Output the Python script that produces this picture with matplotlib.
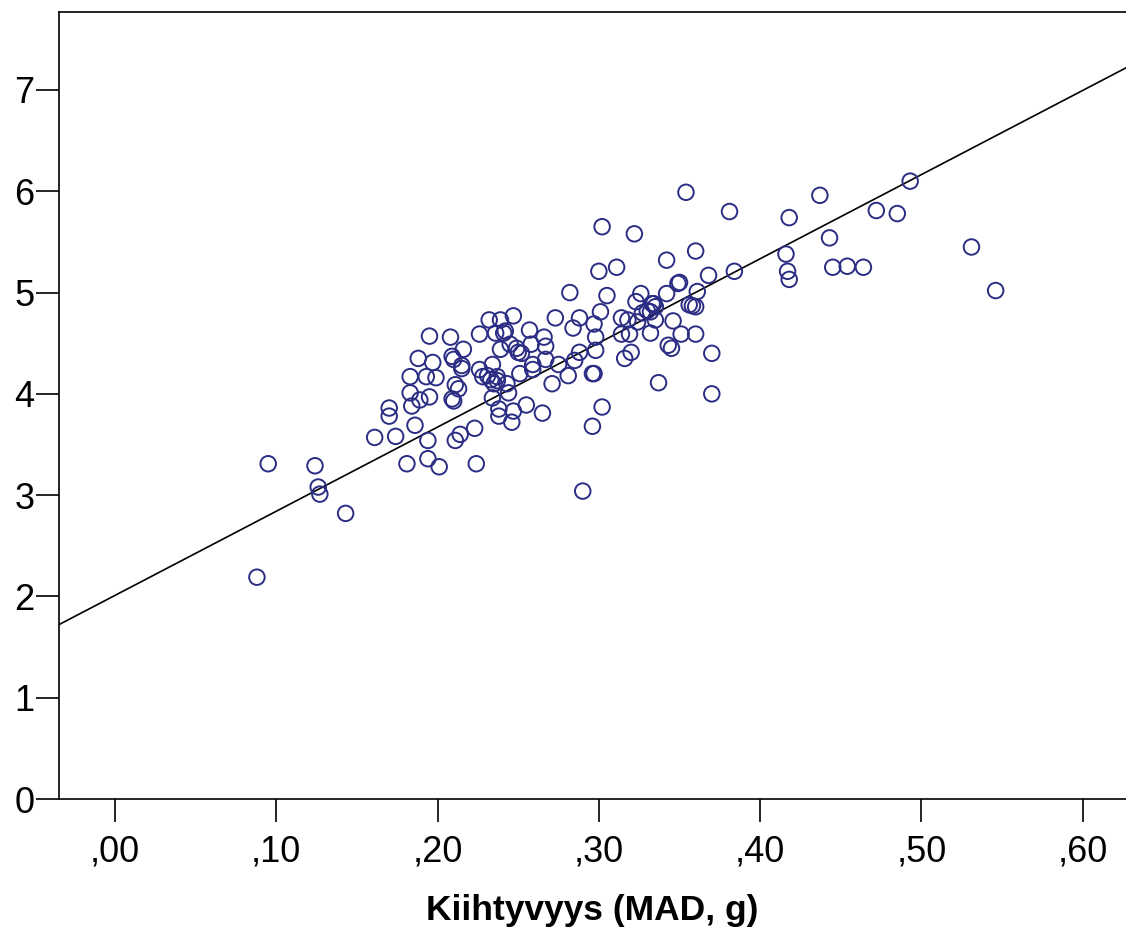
import numpy as np
import matplotlib
matplotlib.use('Agg')
import matplotlib.pyplot as plt

plt.rcParams['font.family'] = ['Liberation Sans', 'DejaVu Sans']

# acceleration (MAD, g) vs outcome
x = [0.088, 0.095, 0.124, 0.126, 0.127, 0.143, 0.161, 0.170, 0.170, 0.174,
     0.181, 0.183, 0.183, 0.184, 0.186, 0.188, 0.189, 0.193, 0.194, 0.194,
     0.195, 0.195, 0.197, 0.199, 0.201, 0.208, 0.209, 0.209, 0.210, 0.210,
     0.211, 0.211, 0.213, 0.214, 0.215, 0.215, 0.216, 0.223, 0.224, 0.226,
     0.226, 0.228, 0.231, 0.232, 0.233, 0.234, 0.234, 0.235, 0.236, 0.237,
     0.237, 0.238, 0.238, 0.239, 0.239, 0.241, 0.243, 0.244, 0.245, 0.246,
     0.247, 0.247, 0.249, 0.250, 0.251, 0.252, 0.255, 0.257, 0.258, 0.259,
     0.259, 0.265, 0.266, 0.267, 0.267, 0.271, 0.273, 0.275, 0.281, 0.282,
     0.284, 0.285, 0.288, 0.288, 0.290, 0.296, 0.296, 0.297, 0.297, 0.298,
     0.298, 0.300, 0.301, 0.302, 0.302, 0.305, 0.311, 0.314, 0.316, 0.318,
     0.320, 0.319, 0.322, 0.323, 0.324, 0.326, 0.327, 0.330, 0.332, 0.332,
     0.334, 0.335, 0.335, 0.337, 0.342, 0.342, 0.343, 0.345, 0.346, 0.349,
     0.350, 0.351, 0.354, 0.356, 0.358, 0.360, 0.360, 0.360, 0.361, 0.368,
     0.370, 0.370, 0.381, 0.384, 0.416, 0.417, 0.418, 0.418, 0.437, 0.443,
     0.445, 0.454, 0.464, 0.472, 0.485, 0.493, 0.531, 0.546, 0.242, 0.314,
     0.333]
y = [2.19, 3.31, 3.29, 3.08, 3.01, 2.82, 3.57, 3.86, 3.78, 3.58,
     3.31, 4.17, 4.01, 3.88, 3.69, 4.35, 3.94, 4.17, 3.54, 3.36,
     4.57, 3.97, 4.31, 4.16, 3.28, 4.56, 4.37, 3.95, 4.34, 3.93,
     4.09, 3.54, 4.05, 3.60, 4.25, 4.28, 4.44, 3.66, 3.31, 4.59,
     4.24, 4.17, 4.18, 4.73, 4.14, 4.29, 3.96, 4.10, 4.60, 4.17,
     4.13, 3.85, 3.78, 4.73, 4.44, 4.60, 4.10, 4.01, 4.49, 3.72,
     3.83, 4.77, 4.45, 4.41, 4.20, 4.40, 3.89, 4.63, 4.49, 4.29,
     4.24, 3.81, 4.56, 4.47, 4.34, 4.10, 4.75, 4.29, 4.18, 5.00,
     4.65, 4.33, 4.75, 4.41, 3.04, 3.68, 4.20, 4.20, 4.69, 4.56,
     4.43, 5.21, 4.81, 3.87, 5.65, 4.97, 5.25, 4.59, 4.35, 4.73,
     4.41, 4.59, 5.58, 4.91, 4.71, 4.99, 4.80, 4.82, 4.60, 4.81,
     4.89, 4.73, 4.86, 4.11, 5.32, 4.99, 4.48, 4.45, 4.72, 5.09,
     5.10, 4.59, 5.99, 4.88, 4.87, 4.86, 4.59, 5.41, 5.01, 5.17,
     4.40, 4.00, 5.80, 5.21, 5.38, 5.21, 5.74, 5.13, 5.96, 5.54,
     5.25, 5.26, 5.25, 5.81, 5.78, 6.10, 5.45, 5.02, 4.62, 4.75,
     4.89]

# fitted line
intercept = 2.01
slope = 8.31

x_ticks = [0.0, 0.1, 0.2, 0.3, 0.4, 0.5, 0.6]
x_labels = [',00', ',10', ',20', ',30', ',40', ',50', ',60']
y_ticks = [0, 1, 2, 3, 4, 5, 6, 7]

fig = plt.figure(figsize=(11.26, 9.30), dpi=100)
ax = fig.add_axes([59 / 1126, 131 / 930, 1067 / 1126, 787 / 930])

ax.scatter(x, y, s=125, facecolors='none', edgecolors='#2b2d84',
           linewidths=1.4, zorder=3)
ax.axline((0, intercept), slope=slope, color='black', linewidth=1.2, zorder=2)

ax.set_xlim(-0.0347, 0.6268)
ax.set_ylim(0, 7.77)
ax.set_xticks(x_ticks)
ax.set_xticklabels(x_labels)
ax.set_yticks(y_ticks)
ax.tick_params(direction='out', length=16.5, width=1.2, labelsize=26,
               colors='black')
ax.tick_params(axis='x', pad=9)
ax.tick_params(axis='y', pad=1)

for sp in ax.spines.values():
    sp.set_linewidth(1.2)
ax.spines['right'].set_visible(False)

ax.set_xlabel('Kiihtyvyys (MAD, g)', fontsize=25.5, fontweight='bold',
              labelpad=18)

fig.savefig('out.png', dpi=100)
